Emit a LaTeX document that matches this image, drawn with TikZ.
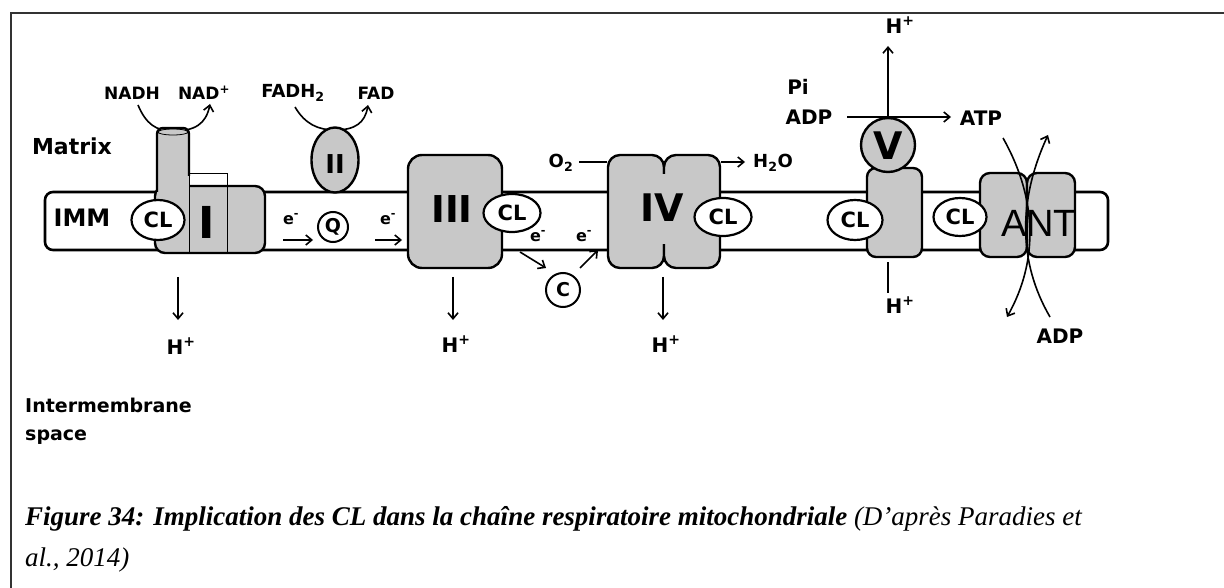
\documentclass[tikz,border=0pt]{standalone}
\usepackage{fontspec}
\setmainfont{Liberation Serif}
\newfontfamily\dvs{DejaVu Sans}
\newfontfamily\ars{Liberation Sans}
\usetikzlibrary{shapes.geometric,arrows.meta}
\newcommand\lf[1]{\dvs\bfseries\fontsize{#1}{#1}\selectfont}
\definecolor{cgray}{RGB}{200,200,200}
\begin{document}
\begin{tikzpicture}[x=1pt,y=-1pt,
  lab/.style={inner sep=0pt,font=\lf{17}},
  big/.style={inner sep=0pt,font=\lf{20}},
  comp/.style={draw=black,fill=cgray,line width=2.4pt,inner sep=0pt},
  cl/.style={ellipse,draw=black,fill=white,line width=2.2pt,inner sep=0pt,minimum width=55pt,minimum height=39pt,font=\lf{21}},
  mol/.style={circle,draw=black,fill=white,line width=2pt,inner sep=0pt,font=\lf{19}},
  arr/.style={line width=1.6pt,-{Straight Barb[length=6pt,width=10pt]}},
  ln/.style={line width=1.6pt}]
\useasboundingbox (0,0) rectangle (1224,588);
\draw[line width=1.6pt,draw=black!80] (11,588) -- (11,13) -- (1224,13);

% membrane
\node[draw=black,fill=white,line width=2.6pt,rounded corners=8pt,minimum width=1063pt,minimum height=58pt,inner sep=0pt] (imm) at (576.5,221) {};
\node[lab,font=\lf{24}] (immlab) at (82,218) {IMM};
\node[lab,font=\lf{22}] (matrix) at (72,146) {Matrix};
\node[lab,font=\lf{19},anchor=west] (inter) at (25,405) {Intermembrane};
\node[lab,font=\lf{19},anchor=west] (space) at (25,437) {space};

% complex I
\node[lab] (nadh) at (132,93) {NADH};
\node[lab] (nadp) at (204,93) {NAD\textsuperscript{+}};
\draw[arr] (138,105) .. controls (146,124) and (156,131) .. (173,131) .. controls (195,131) and (206,124) .. (210,104);
\node[comp,rounded corners=10pt,minimum width=110pt,minimum height=67pt] (c1) at (210,219.5) {};
\fill[cgray,rounded corners=6pt] (157,205) -- (157,128) -- (189,128) -- (189,205);
\draw[line width=2.4pt,rounded corners=6pt] (157,192) -- (157,128) -- (189,128) -- (189,176);
\draw[line width=0.8pt] (173,132) ellipse [x radius=15pt,y radius=3pt];
\draw[line width=1pt] (189,174) rectangle (227,253);
\node[lab,font=\lf{44}] (c1lab) at (207,222) {I};
\node[cl,minimum width=53pt,minimum height=40pt] (cl1) at (158,220) {CL};
\coordinate (h1a) at (178,277);
\node[big] (h1) at (181,346) {H\textsuperscript{+}};
\draw[arr] (h1a) -- (178,320);

% complex II
\node[lab,font=\lf{18}] (fadh) at (293,93) {FADH\textsubscript{2}};
\node[lab] (fad) at (376,93) {FAD};
\draw[arr] (295,107) .. controls (305,124) and (318,130) .. (335,130) .. controls (355,130) and (365,123) .. (368,105);
\node[comp,ellipse,minimum width=47pt,minimum height=65pt] (c2) at (335,160) {};
\node[lab,font=\lf{26}] (c2lab) at (335,164) {II};
\node[mol,minimum size=30pt] (q) at (333,227) {Q};
\node[lab,font=\lf{16}] (e1) at (291,219) {e\textsuperscript{-}};
\node[lab,font=\lf{16}] (e2) at (388,219) {e\textsuperscript{-}};
\coordinate (e1a) at (283,240); \coordinate (e1b) at (313,240);
\coordinate (e2a) at (375,240); \coordinate (e2b) at (402,240);
\draw[arr] (e1a) -- (e1b);
\draw[arr] (e2a) -- (e2b);

% complex III
\node[comp,rounded corners=14pt,minimum width=94pt,minimum height=113pt] (c3) at (455,211.5) {};
\node[lab,font=\lf{37}] (c3lab) at (452,209) {III};
\node[cl,minimum width=57pt,minimum height=38pt] (cl3) at (512,213) {CL};
\node[mol,minimum size=34pt] (cyc) at (563,290) {C};
\node[lab,font=\lf{16}] (e3) at (538,236) {e\textsuperscript{-}};
\node[lab,font=\lf{16}] (e4) at (584,236) {e\textsuperscript{-}};
\coordinate (e3a) at (520,252); \coordinate (e3b) at (546,268);
\coordinate (e4a) at (580,268); \coordinate (e4b) at (598,250);
\draw[arr] (e3a) -- (e3b);
\draw[arr] (e4a) -- (e4b);
\node[big] (h3) at (456,344) {H\textsuperscript{+}};
\draw[arr] (453,277) -- (453,320);

% complex IV
\node[comp,rounded corners=12pt,minimum width=56pt,minimum height=113pt] (c4a) at (636,211.5) {};
\node[comp,rounded corners=12pt,minimum width=56pt,minimum height=113pt] (c4b) at (692,211.5) {};
\fill[cgray] (656,174) rectangle (672,244);
\node[lab,font=\lf{38}] (c4lab) at (662,208) {IV};
\node[cl,minimum width=57pt,minimum height=38pt] (cl4) at (723,217) {CL};
\node[lab,font=\lf{18}] (o2) at (561,163) {O\textsubscript{2}};
\draw[ln] (o2.east) ++(6,-1) -- (c4a.west |- 0,162);
\node[lab,font=\lf{18}] (h2o) at (773,163) {H\textsubscript{2}O};
\draw[arr] (c4b.east |- 0,162) -- (745,162);
\node[big] (h4) at (666,344) {H\textsuperscript{+}};
\draw[arr] (663,277) -- (663,320);

% complex V
\node[comp,rounded corners=9pt,minimum width=55pt,minimum height=89pt] (c5) at (894.5,212.5) {};
\node[cl,minimum width=55pt,minimum height=40pt] (cl5) at (855,220) {CL};
\node[big] (pi) at (798,87) {Pi};
\node[big] (adp1) at (809,117) {ADP};
\node[big] (atp) at (981,118) {ATP};
\node[comp,circle,minimum size=54pt] (v) at (888,145) {};
\node[lab,font=\lf{38}] (vlab) at (888,146) {V};
\draw[arr] (847,117) -- (951,117);
\node[big,fill=white] (h5t) at (900,25) {H\textsuperscript{+}};
\draw[arr] (v.north) -- (888,46);
\node[big] (h5b) at (900,305) {H\textsuperscript{+}};
\draw[ln] (c5.south) ++(-6.5,4) -- (888,293);

% ANT
\node[comp,rounded corners=10pt,minimum width=47pt,minimum height=84pt] (ant1) at (1003.5,215) {};
\node[comp,rounded corners=10pt,minimum width=48pt,minimum height=84pt] (ant2) at (1051,215) {};
\node[inner sep=0pt,font=\ars\fontsize{38}{38}\selectfont] (antlab) at (1039,223) {ANT};
\node[cl,minimum width=53pt,minimum height=38pt] (cl6) at (960,217) {CL};
\node[big] (adp2) at (1060,336) {ADP};
\draw[arr] (1003,138) .. controls (1038,200) and (1038,262) .. (1007,317);
\draw[arr] (1050,317) .. controls (1018,262) and (1018,200) .. (1048,135);

% caption
\node[inner sep=0pt,anchor=west,font=\fontsize{27}{27}\selectfont] (cap1) at (25,519) {\bfseries\itshape Figure 34: Implication des CL dans la chaîne respiratoire mitochondriale \mdseries(D’après Paradies et};
\node[inner sep=0pt,anchor=west,font=\fontsize{27}{27}\selectfont\itshape] (cap2) at (25,560) {al., 2014)};
\end{tikzpicture}
\end{document}
